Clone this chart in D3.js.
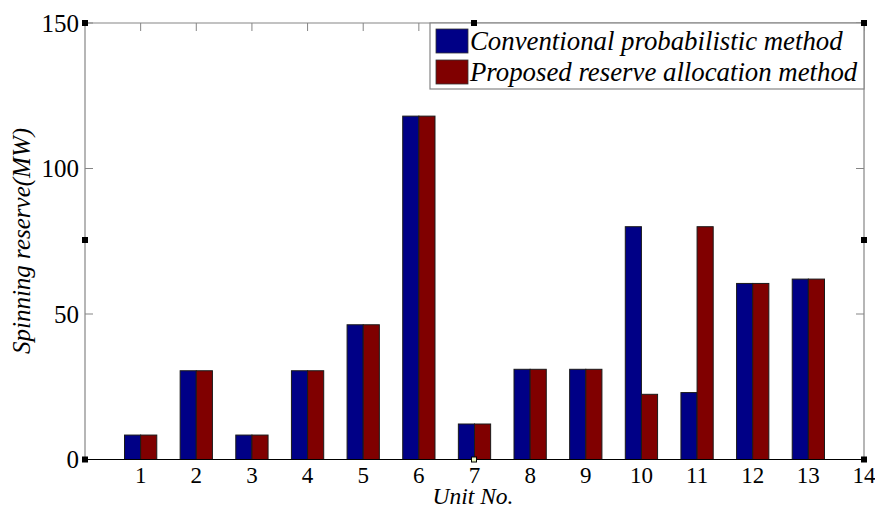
<!DOCTYPE html>
<html>
<head>
<meta charset="utf-8">
<script src="https://cdn.jsdelivr.net/npm/d3@7"></script>
<style>
  html, body { margin: 0; padding: 0; background: #fff; }
</style>
</head>
<body>
<svg id="chart" width="875" height="509" font-family="Liberation Serif, DejaVu Serif, Times New Roman, serif"></svg>
<script>
// Spinning reserve per generating unit (MW)
const units = [1, 2, 3, 4, 5, 6, 7, 8, 9, 10, 11, 12, 13];
const conventional = [8.4, 30.5, 8.4, 30.5, 46.3, 118, 12.2, 31, 31, 80, 23, 60.5, 62];
const proposed     = [8.4, 30.5, 8.4, 30.5, 46.3, 118, 12.2, 31, 31, 22.4, 80, 60.5, 62];
const seriesNames = ["Conventional probabilistic method", "Proposed reserve allocation method"];
const seriesColors = ["#000086", "#800000"];
const xTicks = [1, 2, 3, 4, 5, 6, 7, 8, 9, 10, 11, 12, 13, 14];
const yTicks = [0, 50, 100, 150];

const serif = "Liberation Serif";
const svg = d3.select("#chart");
const plotL = 85, plotR = 864, plotT = 23, plotB = 459.5;

const x = d3.scaleLinear().domain([0, 14]).range([plotL, plotR]);
const y = d3.scaleLinear().domain([0, 150]).range([plotB, plotT]);
const barW = 0.29; // bar width in unit spacing

// axes frame: gray box, black baseline
const frameColor = "#858585";
svg.append("line").attr("x1", plotL).attr("x2", plotL).attr("y1", plotT).attr("y2", plotB)
  .attr("stroke", frameColor).attr("stroke-width", 1.2);
svg.append("line").attr("x1", plotR).attr("x2", plotR).attr("y1", plotT).attr("y2", plotB)
  .attr("stroke", frameColor).attr("stroke-width", 1.2);
svg.append("line").attr("x1", plotL).attr("x2", plotR).attr("y1", plotT).attr("y2", plotT)
  .attr("stroke", frameColor).attr("stroke-width", 1.2);

// inward tick marks on top, left and right
const tickLen = 8;
const tickG = svg.append("g").attr("stroke", frameColor).attr("stroke-width", 1);
xTicks.forEach(t => {
  tickG.append("line").attr("x1", x(t)).attr("x2", x(t)).attr("y1", plotT).attr("y2", plotT + tickLen);
});
yTicks.forEach(t => {
  tickG.append("line").attr("x1", plotL).attr("x2", plotL + tickLen).attr("y1", y(t)).attr("y2", y(t));
  tickG.append("line").attr("x1", plotR).attr("x2", plotR - tickLen).attr("y1", y(t)).attr("y2", y(t));
});

// bars
const barG = svg.append("g");
[conventional, proposed].forEach((vals, s) => {
  barG.selectAll(null).data(units.map((u, i) => ({u, v: vals[i]})))
    .enter().append("rect")
    .attr("x", d => s === 0 ? x(d.u - barW) : x(d.u))
    .attr("width", d => x(barW) - x(0))
    .attr("y", d => y(d.v))
    .attr("height", d => y(0) - y(d.v))
    .attr("fill", seriesColors[s])
    .attr("stroke", "#1a1a1a")
    .attr("stroke-width", 1);
});

// baseline
svg.append("line").attr("x1", plotL).attr("x2", plotR).attr("y1", plotB).attr("y2", plotB)
  .attr("stroke", "#000").attr("stroke-width", 1.2);

// tick labels
svg.append("g").selectAll("text").data(xTicks).enter().append("text")
  .attr("x", d => x(d)).attr("y", 483)
  .attr("font-family", serif)
  .attr("text-anchor", "middle").attr("font-size", 23)
  .text(d => d);
svg.append("g").selectAll("text").data(yTicks).enter().append("text")
  .attr("x", 79).attr("y", d => y(d)).attr("dy", "0.34em")
  .attr("font-family", serif)
  .attr("text-anchor", "end").attr("font-size", 25)
  .text(d => d);

// axis titles
svg.append("text").attr("x", 473).attr("y", 503.5)
  .attr("font-family", serif)
  .attr("text-anchor", "middle").attr("font-size", 23.5).attr("font-style", "italic")
  .text("Unit No.");
svg.append("text")
  .attr("transform", "translate(30,241) rotate(-90)")
  .attr("font-family", serif)
  .attr("text-anchor", "middle").attr("font-size", 25).attr("font-style", "italic")
  .text("Spinning reserve(MW)");

// legend
const lg = svg.append("g");
lg.append("rect").attr("x", 430).attr("y", plotT).attr("width", plotR - 430).attr("height", 66)
  .attr("fill", "#fff").attr("stroke", frameColor).attr("stroke-width", 1.2);
seriesNames.forEach((name, i) => {
  const ry = 29 + i * 31;
  lg.append("rect").attr("x", 436).attr("y", ry).attr("width", 32).attr("height", 24)
    .attr("fill", seriesColors[i]).attr("stroke", "#333").attr("stroke-width", 0.8);
  lg.append("text").attr("x", 470).attr("y", ry + 21)
    .attr("font-family", serif)
    .attr("font-size", 26.8).attr("font-style", "italic")
    .text(name);
});

// small selection handles on the axes box
const handles = [[plotL, plotT], [plotL, 240], [plotL, plotB], [474, plotT], [474, plotB],
                 [plotR, plotT], [plotR, 240], [plotR, plotB]];
svg.append("g").selectAll("rect").data(handles).enter().append("rect")
  .attr("x", d => d[0] - 2.5).attr("y", d => d[1] - 2.5)
  .attr("width", 5).attr("height", 5)
  .attr("fill", (d, i) => i === 4 ? "#e8f5c0" : "#000")
  .attr("stroke", "#000").attr("stroke-width", 1);
</script>
</body>
</html>
